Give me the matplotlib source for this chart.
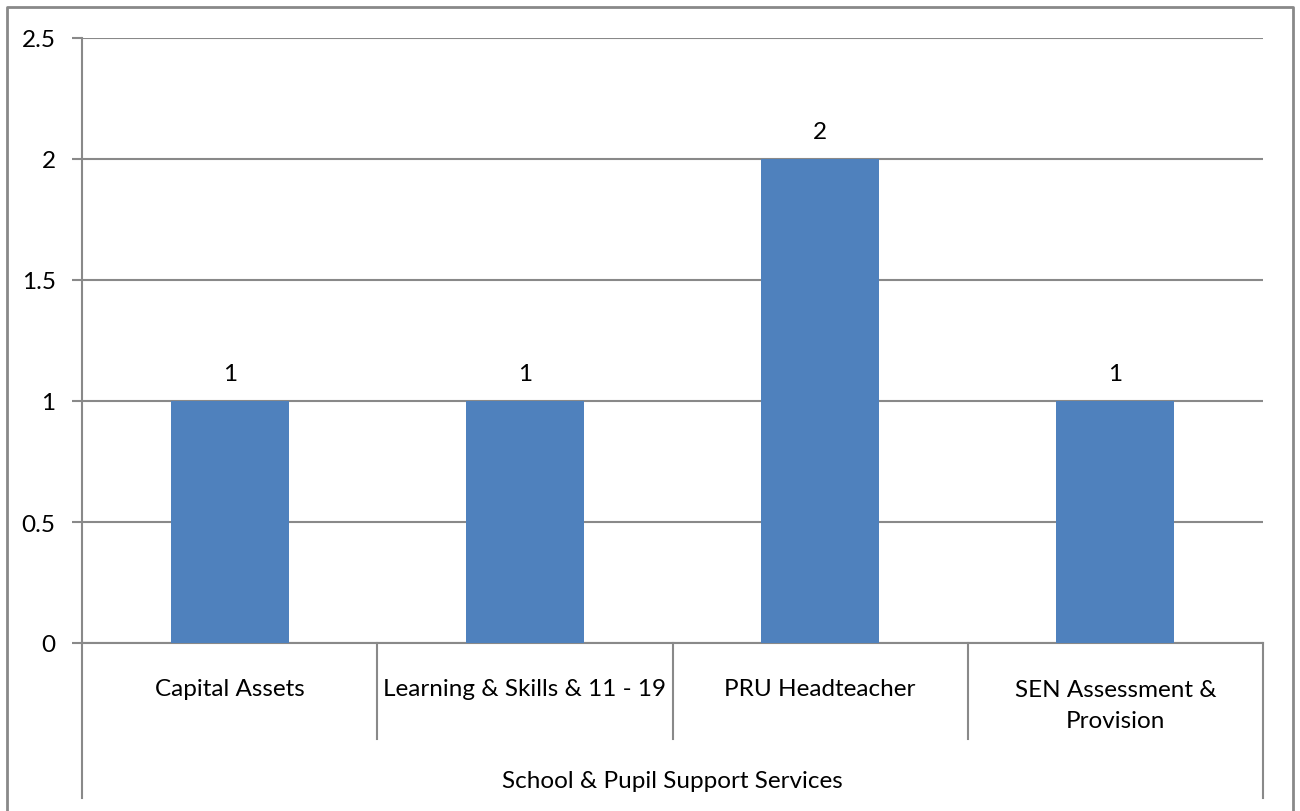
import matplotlib.pyplot as plt

#----- Data -----
categories = [ "Capital Assets", "Learning & Skills & 11 - 19", "PRU Headteacher", "SEN Assessment &\nProvision" ]
group_label = "School & Pupil Support Services"
values = [ 1, 1, 2, 1 ]
y_ticks = [ 0, 0.5, 1, 1.5, 2, 2.5 ]
y_tick_labels = [ "0", "0.5", "1", "1.5", "2", "2.5" ]

bar_colour = "#4F81BD"
line_colour = "#898989"

plt.rcParams.update({ "font.family": [ "Lato", "DejaVu Sans" ], "font.size": 17.5 })

fig = plt.figure( figsize=(13, 8.12), dpi=100 )
ax = fig.add_axes( [ 82/1300, 1 - 644/812, (1263 - 82)/1300, (644 - 39)/812 ] )

x = list( range( len( categories ) ) )
ax.bar( x, values, width=0.4, color=bar_colour, zorder=3 )

for xi, v in zip( x, values ):
	ax.annotate( str( v ), (xi, v), xytext=(0, 20), textcoords="offset points", ha="center", va="center" )

ax.set_xlim( -0.5, len( categories ) - 0.5 )
ax.set_ylim( 0, 2.5 )
ax.set_yticks( y_ticks )
ax.set_yticklabels( y_tick_labels )
ax.yaxis.grid( True, color=line_colour, lw=1.5, zorder=0 )
ax.tick_params( axis="y", length=7, width=1.5, color=line_colour, pad=12 )
ax.set_xticks( [] )

for s in [ "top", "right" ]:
	ax.spines[s].set_visible( False )
ax.spines["left"].set_color( line_colour )
ax.spines["left"].set_linewidth( 1.5 )
ax.spines["bottom"].set_color( line_colour )
ax.spines["bottom"].set_linewidth( 1.5 )

#--- Multi-level category axis ---
tr = ax.get_xaxis_transform()
for b in [ 0.5, 1.5, 2.5 ]:
	ax.plot( [b, b], [0, -0.159], transform=tr, color=line_colour, lw=1.5, clip_on=False )
for b in [ -0.5, len( categories ) - 0.5 ]:
	ax.plot( [b, b], [0, -0.256], transform=tr, color=line_colour, lw=1.5, clip_on=False )

for xi, c in zip( x, categories ):
	if "\n" in c:
		ax.text( xi, -0.103, c, transform=tr, ha="center", va="center", linespacing=1.6 )
	else:
		ax.text( xi, -0.076, c, transform=tr, ha="center", va="center" )
ax.text( (len( categories ) - 1)/2, -0.228, group_label, transform=tr, ha="center", va="center" )

#--- Outer chart border ---
fx = [ 7/1300, 7/1300, 1293/1300, 1293/1300 ]
fy = [ 0, 1 - 8/812, 1 - 8/812, 0 ]
fig.add_artist( plt.Line2D( fx, fy, color=line_colour, lw=2 ) )

plt.savefig( "out.png", dpi=100 )
plt.close()
